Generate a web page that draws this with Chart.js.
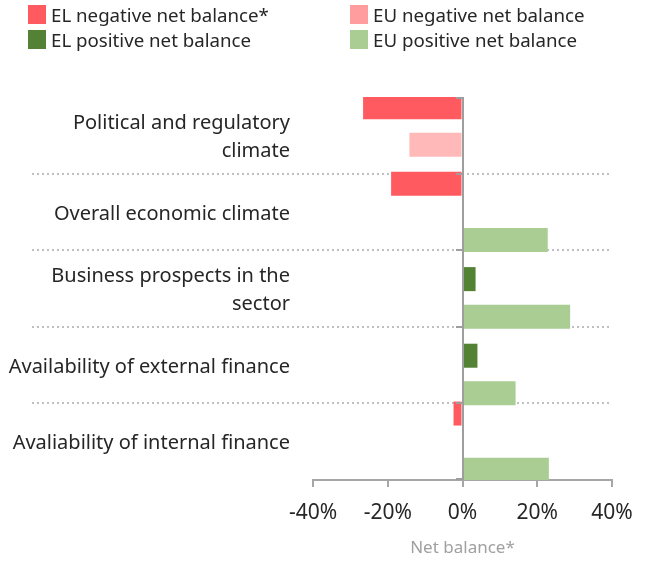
<!DOCTYPE html>
<html>
<head>
<meta charset="utf-8">
<script src="https://cdn.jsdelivr.net/npm/chart.js@4"></script>
<style>
  html, body { margin: 0; padding: 0; background: #fff; }
  #wrap { position: relative; width: 649px; height: 564px; font-family: 'Noto Sans', sans-serif; }
  #legend { position: absolute; left: 28px; top: 5px; display: grid; grid-template-columns: 322px 260px; row-gap: 6px; }
  .item { display: flex; align-items: center; font-size: 18.7px; color: #262626; height: 19px; }
  .box { width: 18px; height: 19px; margin-right: 5px; }
</style>
</head>
<body>
<div id="wrap">
  <canvas id="chart" width="649" height="564"></canvas>
  <div id="legend"></div>
</div>
<script>
const categories = [
  ['Political and regulatory', 'climate'],
  'Overall economic climate',
  ['Business prospects in the', 'sector'],
  'Availability of external finance',
  'Avaliability of internal finance'
];
const elValues = [-26.6, -19.1, 3.5, 4.0, -2.4];
const euValues = [-14.2, 22.8, 28.8, 14.2, 23.1];
const xTicks = [-40, -20, 0, 20, 40];

const negOnly = arr => arr.map(v => v < 0 ? v : null);
const posOnly = arr => arr.map(v => v >= 0 ? v : null);

const series = [
  { label: 'EL negative net balance*', data: negOnly(elValues), color: '#FF5A5F', key: '#FF5A5F' },
  { label: 'EL positive net balance', data: posOnly(elValues), color: '#548235', key: '#548235' },
  { label: 'EU negative net balance', data: negOnly(euValues), color: '#FFB9B9', key: '#FF9C9E' },
  { label: 'EU positive net balance', data: posOnly(euValues), color: '#A9CD92', key: '#A9CD92' }
];

// legend in 2x2 grid: row 1 negatives, row 2 positives
const legendOrder = [0, 2, 1, 3];
const legendEl = document.getElementById('legend');
legendOrder.forEach(i => {
  const s = series[i];
  const d = document.createElement('div');
  d.className = 'item';
  d.innerHTML = '<span class="box" style="background:' + s.key + '"></span><span>' + s.label + '</span>';
  legendEl.appendChild(d);
});

const separators = {
  id: 'separators',
  beforeDatasetsDraw(chart) {
    const y = chart.scales.y;
    const ctx = chart.ctx;
    ctx.save();
    ctx.strokeStyle = '#BFBFBF';
    ctx.lineWidth = 2;
    ctx.setLineDash([2, 3]);
    for (let i = 1; i < categories.length; i++) {
      const py = Math.round((y.getPixelForValue(i - 1) + y.getPixelForValue(i)) / 2);
      ctx.beginPath();
      ctx.moveTo(32, py);
      ctx.lineTo(chart.chartArea.right - 2, py);
      ctx.stroke();
    }
    ctx.restore();
  },
  afterDatasetsDraw(chart) {
    const x = chart.scales.x;
    const y = chart.scales.y;
    const ctx = chart.ctx;
    const x0 = Math.round(x.getPixelForValue(0));
    const top = chart.chartArea.top, bottom = chart.chartArea.bottom;
    ctx.save();
    ctx.strokeStyle = '#9E9E9E';
    ctx.lineWidth = 2;
    ctx.beginPath();
    ctx.moveTo(x0, top);
    ctx.lineTo(x0, bottom);
    ctx.stroke();
    for (let i = 0; i <= categories.length; i++) {
      let py;
      if (i === 0) py = top + 1;
      else if (i === categories.length) py = bottom - 1;
      else py = Math.round((y.getPixelForValue(i - 1) + y.getPixelForValue(i)) / 2);
      ctx.beginPath();
      ctx.moveTo(x0 - 7, py);
      ctx.lineTo(x0, py);
      ctx.stroke();
    }
    ctx.restore();
  }
};

new Chart(document.getElementById('chart').getContext('2d'), {
  type: 'bar',
  data: {
    labels: categories,
    datasets: series.map(s => ({
      label: s.label,
      data: s.data,
      backgroundColor: s.color,
      borderWidth: 0,
      categoryPercentage: 0.98,
      barPercentage: 1.28
    }))
  },
  options: {
    indexAxis: 'y',
    responsive: false,
    animation: false,
    layout: { padding: { top: 97, right: 37, left: 0, bottom: 0 } },
    plugins: { legend: { display: false }, tooltip: { enabled: false } },
    scales: {
      x: {
        min: -40,
        max: 40,
        afterBuildTicks: axis => { axis.ticks = xTicks.map(v => ({ value: v })); },
        afterFit: axis => { axis.height = 84; },
        grid: { drawOnChartArea: false, drawTicks: true, tickLength: 7, color: '#A6A6A6', lineWidth: 2 },
        border: { display: true, color: '#A6A6A6', width: 2 },
        ticks: {
          padding: 13,
          color: '#262626',
          font: { family: 'Noto Sans', size: 21 },
          callback: v => v + '%'
        },
        title: {
          display: true,
          text: 'Net balance*',
          color: '#A0A0A0',
          font: { family: 'Noto Sans', size: 17 },
          padding: { top: 0, bottom: 6 }
        }
      },
      y: {
        afterFit: axis => { axis.width = 313; },
        grid: { display: false, drawTicks: false },
        border: { display: false },
        ticks: {
          padding: 23,
          labelOffset: 2,
          color: '#262626',
          font: { family: 'Noto Sans', size: 20, lineHeight: 1.4 }
        }
      }
    }
  },
  plugins: [separators]
});
</script>
</body>
</html>
